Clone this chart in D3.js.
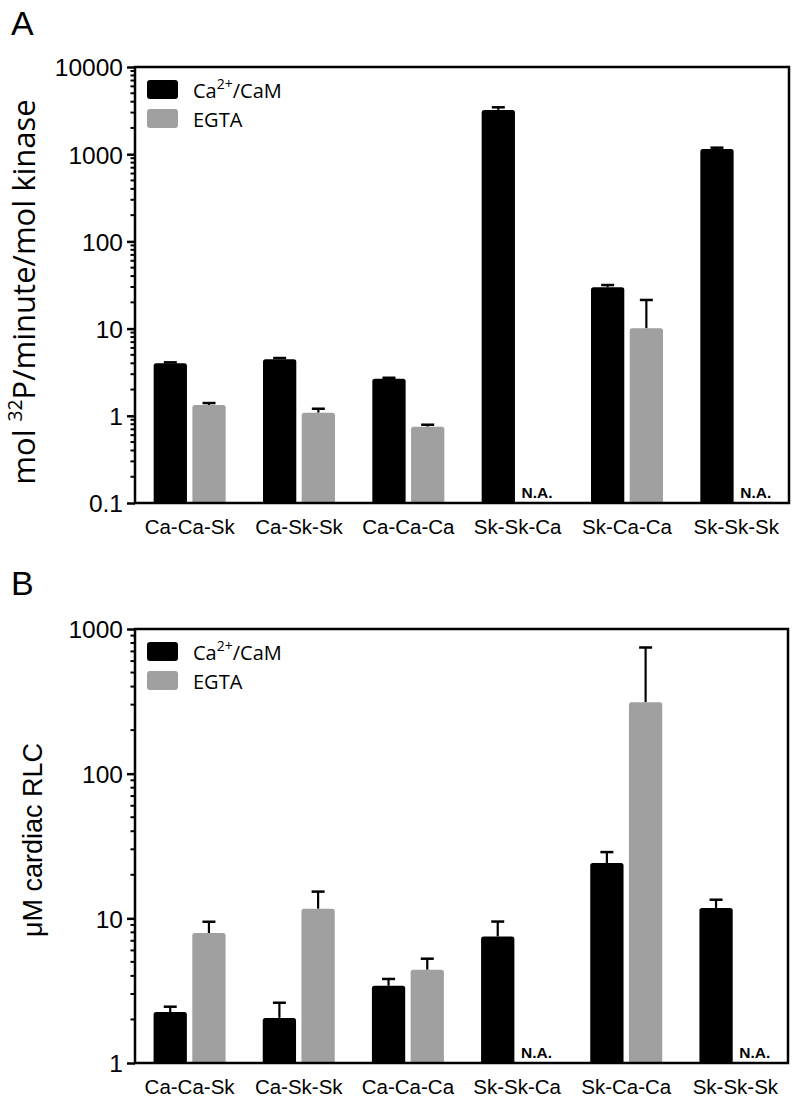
<!DOCTYPE html>
<html>
<head>
<meta charset="utf-8">
<script src="https://cdn.jsdelivr.net/npm/d3@7"></script>
<style>
  html, body { margin: 0; padding: 0; background: #fff; }
  svg { display: block; }
</style>
</head>
<body>
<svg id="chart" width="796" height="1104"></svg>
<script>
// ---------- data ----------
const categories = ["Ca-Ca-Sk", "Ca-Sk-Sk", "Ca-Ca-Ca", "Sk-Sk-Ca", "Sk-Ca-Ca", "Sk-Sk-Sk"];
const seriesNames = ["Ca2+/CaM", "EGTA"];

// Panel A: mol 32P/minute/mol kinase
const aCaM     = [4.0, 4.45, 2.66, 3216, 29.8, 1148];
const aCaMErr  = [0.1, 0.15, 0.07, 234, 1.8, 40];
const aEGTA    = [1.33, 1.085, 0.75, null, 10.1, null];
const aEGTAErr = [0.07, 0.12, 0.04, null, 11.2, null];
const aTicks   = [0.1, 1, 10, 100, 1000, 10000];

// Panel B: µM cardiac RLC
const bCaM     = [2.25, 2.05, 3.42, 7.5, 24.1, 11.8];
const bCaMErr  = [0.2, 0.56, 0.39, 2.0, 4.6, 1.65];
const bEGTA    = [7.91, 11.65, 4.41, null, 312, null];
const bEGTAErr = [1.56, 3.65, 0.85, null, 433, null];
const bTicks   = [1, 10, 100, 1000];

// ---------- drawing ----------
const svg = d3.select("#chart");
const colors = ["#000000", "#a0a0a0"];
const tickFont = "'Liberation Sans', Arial, sans-serif";
const legendFont = "'Open Sans', sans-serif";

function drawPanel(opt) {
  const g = svg.append("g");
  const x0 = d3.scaleBand().domain(categories).range([opt.left, opt.right + 2]).paddingInner(0).paddingOuter(0);
  const x1 = d3.scaleBand().domain([0, 1]).range([-36, 36]).paddingInner(0.14).paddingOuter(0);
  const y = d3.scaleLog().domain(opt.domain).range([opt.bottom, opt.top]);

  // bars
  const series = [opt.cam, opt.egta];
  const errs = [opt.camErr, opt.egtaErr];
  series.forEach((vals, si) => {
    categories.forEach((c, i) => {
      const v = vals[i];
      const cx = x0(c) + x0.bandwidth() / 2;
      if (v == null) {
        g.append("text")
          .attr("x", cx + x1(si) + x1.bandwidth() / 2)
          .attr("y", opt.bottom - 5)
          .attr("text-anchor", "middle")
          .attr("font-family", tickFont)
          .attr("font-weight", "bold")
          .attr("font-size", 15.5)
          .text("N.A.");
        return;
      }
      const bx = cx + x1(si);
      const bw = x1.bandwidth();
      const top = y(v);
      const e = errs[si][i];
      // error bar (upper only)
      const eTop = y(v + e);
      g.append("line")
        .attr("x1", bx + bw / 2).attr("x2", bx + bw / 2)
        .attr("y1", top).attr("y2", eTop)
        .attr("stroke", "#000").attr("stroke-width", 2.2);
      g.append("line")
        .attr("x1", bx + bw / 2 - 6.5).attr("x2", bx + bw / 2 + 6.5)
        .attr("y1", eTop).attr("y2", eTop)
        .attr("stroke", "#000").attr("stroke-width", 2.5);
      g.append("path")
        .attr("d", roundTopRect(bx, top, bw, opt.bottom - top, 2.5))
        .attr("fill", colors[si]);
    });
  });

  // frame
  g.append("rect")
    .attr("x", opt.left).attr("y", opt.top)
    .attr("width", opt.right - opt.left).attr("height", opt.bottom - opt.top)
    .attr("fill", "none").attr("stroke", "#000").attr("stroke-width", 2.5);

  // y axis major ticks and labels
  const axis = d3.axisLeft(y).tickValues(opt.ticks).tickSize(8).tickPadding(4)
    .tickFormat(d => d < 1 ? String(d) : d3.format("d")(d));
  const ax = g.append("g").attr("transform", `translate(${opt.left},0)`).call(axis);
  ax.select(".domain").remove();
  ax.selectAll(".tick line").attr("stroke", "#000").attr("stroke-width", 2.5);
  ax.selectAll(".tick text")
    .attr("font-family", tickFont).attr("font-size", 24.5).attr("fill", "#000").attr("dy", "0.36em");

  // minor ticks
  const minors = [];
  const lo = Math.log10(opt.domain[0]), hi = Math.log10(opt.domain[1]);
  for (let p = lo; p < hi; p++) {
    for (let m = 2; m <= 9; m++) minors.push(m * Math.pow(10, p));
  }
  g.selectAll(null).data(minors).enter().append("line")
    .attr("x1", opt.left - 4.5).attr("x2", opt.left)
    .attr("y1", d => y(d)).attr("y2", d => y(d))
    .attr("stroke", "#000").attr("stroke-width", 2);

  // x labels
  g.selectAll(null).data(categories).enter().append("text")
    .attr("x", d => x0(d) + x0.bandwidth() / 2)
    .attr("y", opt.bottom + 31)
    .attr("text-anchor", "middle")
    .attr("font-family", tickFont).attr("font-size", 20.5)
    .text(d => d);

  // legend
  const leg = g.append("g");
  seriesNames.forEach((n, i) => {
    const ly = opt.top + 13 + i * 29;
    leg.append("rect").attr("x", opt.left + 12).attr("y", ly)
      .attr("width", 31).attr("height", 19).attr("rx", 3)
      .attr("fill", colors[i]);
    const t = leg.append("text").attr("x", opt.left + 58).attr("y", ly + 18)
      .attr("font-family", legendFont).attr("font-size", 20);
    if (i === 0) {
      t.append("tspan").text("Ca");
      t.append("tspan").attr("baseline-shift", "super").attr("font-size", 14).text("2+");
      t.append("tspan").text("/CaM");
    } else {
      t.text(n);
    }
  });

  // panel letter
  svg.append("text").attr("x", 11).attr("y", opt.letterY)
    .attr("font-family", tickFont).attr("font-size", 34).text(opt.letter);

  // y title
  const yt = svg.append("text")
    .attr("transform", `translate(${opt.titleX},${opt.titleY}) rotate(-90)`)
    .attr("text-anchor", "middle")
    .attr("font-family", opt.titleFont).attr("font-size", opt.titleSize);
  opt.titleParts.forEach(p => {
    const ts = yt.append("tspan").text(p.t);
    if (p.sup) ts.attr("baseline-shift", "super").attr("font-size", opt.titleSize * 0.62);
  });
}

function roundTopRect(x, y, w, h, r) {
  return `M${x},${y + h} L${x},${y + r} Q${x},${y} ${x + r},${y} L${x + w - r},${y} Q${x + w},${y} ${x + w},${y + r} L${x + w},${y + h} Z`;
}

drawPanel({
  left: 135, right: 789, top: 67, bottom: 503,
  domain: [0.1, 10000], ticks: aTicks,
  cam: aCaM, camErr: aCaMErr, egta: aEGTA, egtaErr: aEGTAErr,
  letter: "A", letterY: 35,
  titleX: 35, titleY: 292, titleFont: "'Open Sans', sans-serif", titleSize: 31,
  titleParts: [{t: "mol "}, {t: "32", sup: true}, {t: "P/minute/mol kinase"}]
});

drawPanel({
  left: 135, right: 788, top: 629, bottom: 1063,
  domain: [1, 1000], ticks: bTicks,
  cam: bCaM, camErr: bCaMErr, egta: bEGTA, egtaErr: bEGTAErr,
  letter: "B", letterY: 595,
  titleX: 42, titleY: 840, titleFont: "'Liberation Sans', Arial, sans-serif", titleSize: 27,
  titleParts: [{t: "\u03bcM cardiac RLC"}]
});
</script>
</body>
</html>
